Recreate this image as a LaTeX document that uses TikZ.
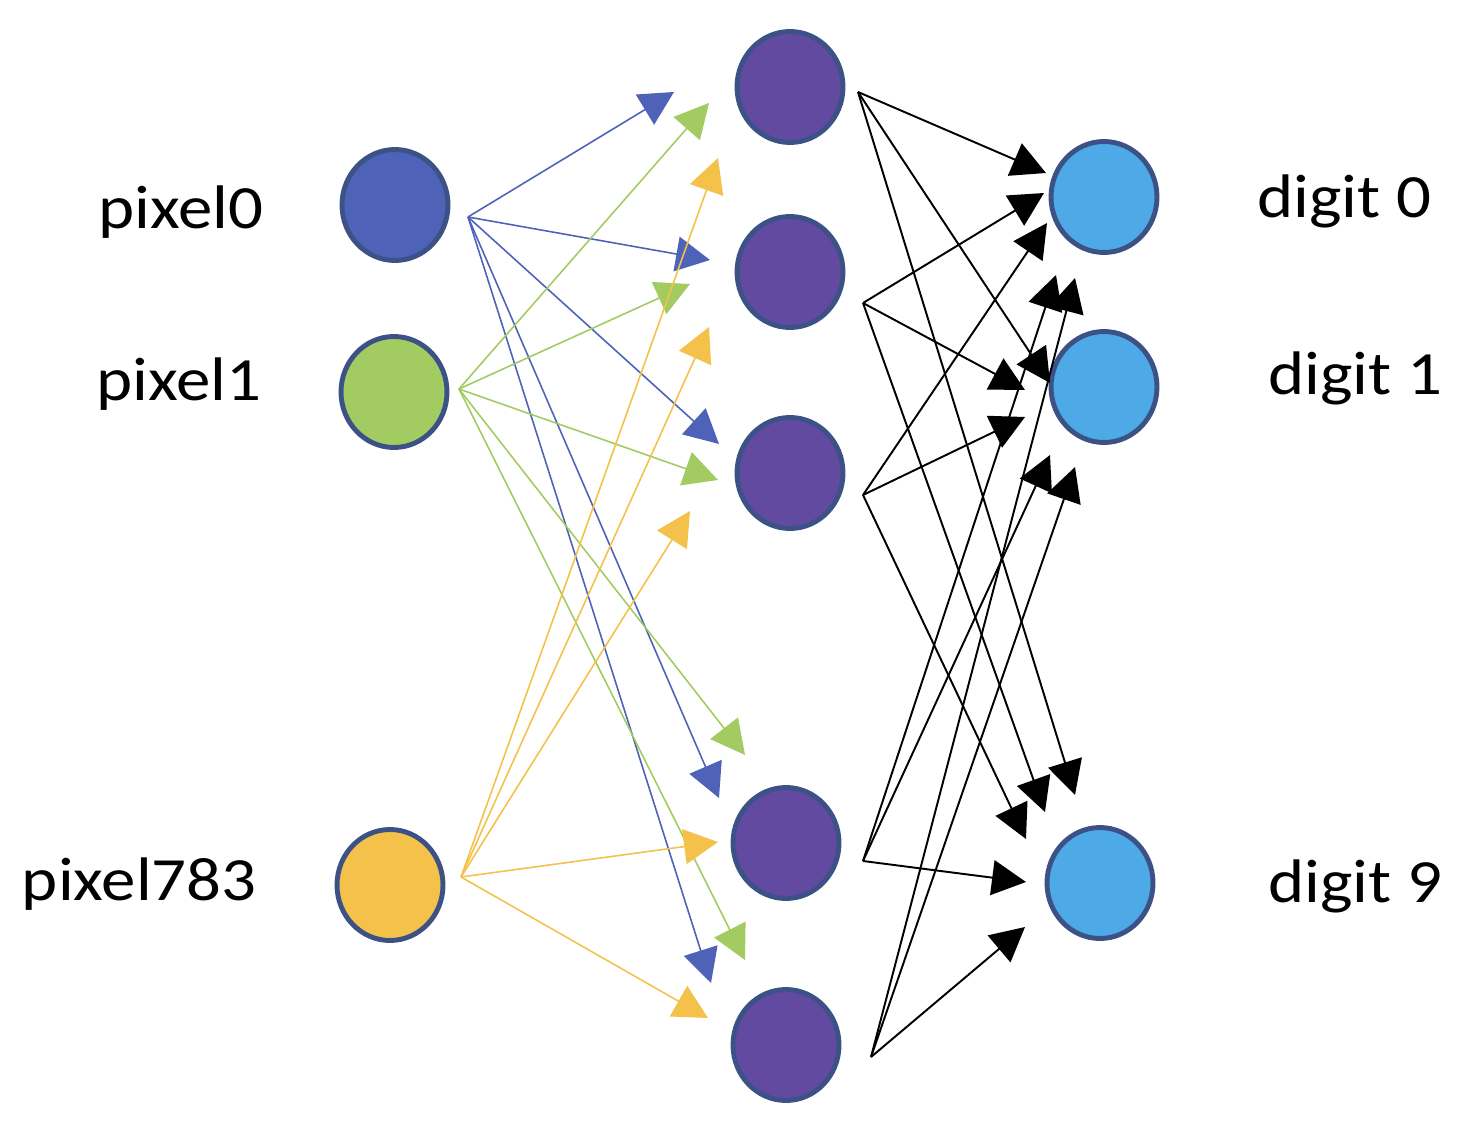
\documentclass[tikz,border=0pt]{standalone}
\usepackage{fontspec}
\setmainfont{Carlito}[FakeStretch=1.12]
\usetikzlibrary{arrows.meta,shapes.geometric}

\definecolor{ringblue}{RGB}{60,82,135}
\definecolor{pixblue}{RGB}{78,98,184}
\definecolor{pixgreen}{RGB}{162,203,98}
\definecolor{pixyellow}{RGB}{244,194,74}
\definecolor{hidpurple}{RGB}{97,74,160}
\definecolor{outblue}{RGB}{77,170,230}

\tikzset{
  unit/.style={ellipse, draw=ringblue, line width=2.8pt, minimum width=2.12cm, minimum height=2.22cm, inner sep=0pt},
  lbl/.style={inner sep=0pt, font=\fontsize{35}{42}\selectfont},
  wire/.style={line width=0.9pt, -{Triangle[length=0.68cm,width=0.7cm]}},
  bwire/.style={line width=1.1pt, black, -{Triangle[length=0.68cm,width=0.7cm]}}
}

\begin{document}
\begin{tikzpicture}[x=0.02cm, y=-0.02cm]
      \useasboundingbox (0,0) rectangle (1474,1145);

      \node[unit, fill=pixblue]   (in0) at (395,205) {};
      \node[unit, fill=pixgreen]  (in1) at (394,392) {};
      \node[unit, fill=pixyellow] (in2) at (390,885) {};

      \node[unit, fill=hidpurple] (h0) at (790,87) {};
      \node[unit, fill=hidpurple] (h1) at (790,272) {};
      \node[unit, fill=hidpurple] (h2) at (790,473) {};
      \node[unit, fill=hidpurple] (h3) at (786,843) {};
      \node[unit, fill=hidpurple] (h4) at (786,1045) {};

      \node[unit, fill=outblue] (o0) at (1104,197) {};
      \node[unit, fill=outblue] (o1) at (1104,387) {};
      \node[unit, fill=outblue] (o9) at (1100,883) {};

      \node[lbl, anchor=base east] (lin0) at (264,229) {pixel0};
      \node[lbl, anchor=base east] (lin1) at (262,400) {pixel1};
      \node[lbl, anchor=base east] (lin2) at (257,900) {pixel783};
      \node[lbl, anchor=base west] (lo0) at (1257,218) {digit 0};
      \node[lbl, anchor=base west] (lo1) at (1268,395) {digit 1};
      \node[lbl, anchor=base west] (lo9) at (1268,902) {digit 9};

      % where the wires leave
      \coordinate (s0) at (468,217);
      \coordinate (s1) at (459,389);
      \coordinate (s2) at (461,877);
      \coordinate (t0) at (858,92);
      \coordinate (t1) at (863,303);
      \coordinate (t2) at (863,495);
      \coordinate (t3) at (863,861);
      \coordinate (t4) at (871,1057);

      % where the wires stop
      \coordinate (b0) at (674,92);  \coordinate (b1) at (710,260);  \coordinate (b2) at (719,444);
      \coordinate (b3) at (719,798); \coordinate (b4) at (711,983);
      \coordinate (g0) at (709,103); \coordinate (g1) at (690,284);  \coordinate (g2) at (718,480);
      \coordinate (g3) at (745,755); \coordinate (g4) at (745,960);
      \coordinate (y0) at (718,158); \coordinate (y1) at (709,327);  \coordinate (y2) at (690,511);
      \coordinate (y3) at (718,842); \coordinate (y4) at (708,1018);

      \coordinate (k00) at (1046,173); \coordinate (k01) at (1050,383); \coordinate (k09) at (1075,795);
      \coordinate (k10) at (1044,193); \coordinate (k11) at (1025,390); \coordinate (k19) at (1045,812);
      \coordinate (k20) at (1047,223); \coordinate (k21) at (1025,417); \coordinate (k29) at (1026,839);
      \coordinate (k30) at (1056,275); \coordinate (k31) at (1050,455); \coordinate (k39) at (1026,882);
      \coordinate (k40) at (1075,278); \coordinate (k41) at (1075,467); \coordinate (k49) at (1025,927);

      \draw[wire, pixblue] (s0) -- (b0);
      \draw[wire, pixblue] (s0) -- (b1);
      \draw[wire, pixblue] (s0) -- (b2);
      \draw[wire, pixblue] (s0) -- (b3);
      \draw[wire, pixblue] (s0) -- (b4);

      \draw[wire, pixgreen] (s1) -- (g0);
      \draw[wire, pixgreen] (s1) -- (g1);
      \draw[wire, pixgreen] (s1) -- (g2);
      \draw[wire, pixgreen] (s1) -- (g3);
      \draw[wire, pixgreen] (s1) -- (g4);

      \draw[wire, pixyellow] (s2) -- (y0);
      \draw[wire, pixyellow] (s2) -- (y1);
      \draw[wire, pixyellow] (s2) -- (y2);
      \draw[wire, pixyellow] (s2) -- (y3);
      \draw[wire, pixyellow] (s2) -- (y4);

      \draw[bwire] (t0) -- (k00);
      \draw[bwire] (t0) -- (k01);
      \draw[bwire] (t0) -- (k09);
      \draw[bwire] (t1) -- (k10);
      \draw[bwire] (t1) -- (k11);
      \draw[bwire] (t1) -- (k19);
      \draw[bwire] (t2) -- (k20);
      \draw[bwire] (t2) -- (k21);
      \draw[bwire] (t2) -- (k29);
      \draw[bwire] (t3) -- (k30);
      \draw[bwire] (t3) -- (k31);
      \draw[bwire] (t3) -- (k39);
      \draw[bwire] (t4) -- (k40);
      \draw[bwire] (t4) -- (k41);
      \draw[bwire] (t4) -- (k49);
    \end{tikzpicture}
\end{document}
